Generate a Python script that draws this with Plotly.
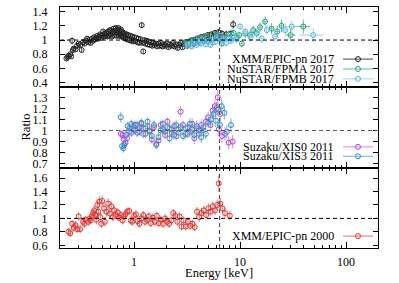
import plotly.graph_objects as go
from plotly.subplots import make_subplots

# ---------------- data (energy keV, ratio, error[, x half-width]) ----------------
xmm2017 = [
    (0.23, 0.74, 0.03), (0.235, 0.76, 0.03), (0.24, 0.78, 0.03), (0.25, 0.80, 0.03), (0.255, 0.77, 0.03),
    (0.26, 0.99, 0.05), (0.265, 0.86, 0.03), (0.27, 0.88, 0.03), (0.28, 0.87, 0.03), (0.29, 0.92, 0.03),
    (0.30, 0.95, 0.03), (0.31, 0.93, 0.03), (0.32, 0.86, 0.03), (0.33, 0.97, 0.03), (0.34, 0.95, 0.03),
    (0.35, 0.99, 0.03), (0.36, 1.02, 0.03), (0.37, 0.97, 0.03), (0.38, 1.00, 0.03), (0.39, 0.96, 0.03),
    (0.40, 1.02, 0.03), (0.41, 0.99, 0.03), (0.42, 1.04, 0.03), (0.43, 1.01, 0.03), (0.44, 1.03, 0.03),
    (0.45, 1.06, 0.03), (0.46, 1.02, 0.03), (0.47, 1.05, 0.03), (0.48, 1.08, 0.03), (0.49, 1.03, 0.03),
    (0.50, 1.07, 0.03), (0.51, 1.12, 0.03), (0.52, 1.05, 0.03), (0.53, 1.09, 0.03), (0.54, 1.06, 0.03),
    (0.55, 1.10, 0.03), (0.56, 1.05, 0.03), (0.57, 1.12, 0.03), (0.58, 1.06, 0.03), (0.59, 1.14, 0.03),
    (0.60, 1.08, 0.03), (0.61, 1.13, 0.03), (0.62, 1.05, 0.03), (0.63, 1.11, 0.03), (0.64, 1.16, 0.03),
    (0.65, 1.07, 0.03), (0.66, 1.13, 0.03), (0.67, 1.17, 0.03), (0.68, 1.06, 0.03), (0.69, 1.14, 0.03),
    (0.70, 1.09, 0.03), (0.71, 1.17, 0.03), (0.72, 1.06, 0.03), (0.73, 1.13, 0.03), (0.74, 1.08, 0.03),
    (0.75, 1.15, 0.03), (0.76, 1.05, 0.03), (0.77, 1.12, 0.03), (0.78, 1.05, 0.03), (0.79, 1.10, 0.03),
    (0.80, 1.03, 0.03), (0.82, 1.09, 0.03), (0.83, 1.02, 0.03), (0.85, 1.08, 0.03), (0.86, 1.01, 0.03),
    (0.88, 1.07, 0.03), (0.90, 1.00, 0.03), (0.92, 1.06, 0.03), (0.94, 0.99, 0.03), (0.96, 1.05, 0.03),
    (0.98, 0.98, 0.03), (1.00, 1.04, 0.03), (1.02, 0.99, 0.03), (1.05, 1.03, 0.03), (1.07, 0.97, 0.03),
    (1.10, 1.02, 0.03), (1.12, 0.96, 0.03), (1.15, 1.01, 0.03), (1.18, 1.21, 0.04), (1.20, 0.96, 0.03),
    (1.22, 0.84, 0.03), (1.25, 1.00, 0.03), (1.28, 0.95, 0.03), (1.31, 0.99, 0.03), (1.34, 0.94, 0.03),
    (1.37, 0.98, 0.03), (1.41, 0.93, 0.03), (1.44, 0.97, 0.03), (1.48, 0.92, 0.03), (1.52, 0.96, 0.03),
    (1.56, 0.93, 0.03), (1.60, 0.95, 0.03), (1.65, 0.91, 0.03), (1.70, 0.95, 0.03), (1.75, 0.92, 0.03),
    (1.80, 0.96, 0.03), (1.86, 0.91, 0.03), (1.92, 0.94, 0.03), (1.98, 0.92, 0.03), (2.04, 0.95, 0.03),
    (2.11, 0.90, 0.03), (2.18, 0.94, 0.03), (2.25, 0.92, 0.03), (2.33, 0.96, 0.03), (2.41, 0.91, 0.03),
    (2.49, 0.94, 0.03), (2.58, 0.89, 0.03), (2.67, 0.93, 0.03), (2.76, 0.96, 0.03), (2.86, 0.90, 0.03),
    (2.96, 0.94, 0.03), (3.07, 0.97, 0.04), (3.18, 0.92, 0.04), (3.30, 0.96, 0.04), (3.42, 0.99, 0.04),
    (3.55, 0.94, 0.04), (3.68, 1.00, 0.04), (3.82, 0.96, 0.04), (3.96, 1.02, 0.04), (4.11, 0.98, 0.04),
    (4.27, 1.04, 0.04), (4.43, 1.00, 0.04), (4.60, 1.05, 0.04), (4.78, 1.01, 0.04), (4.96, 1.07, 0.04),
    (5.15, 1.02, 0.04), (5.35, 1.08, 0.04), (5.56, 1.04, 0.04), (5.78, 1.10, 0.04), (6.00, 1.05, 0.04),
    (6.25, 1.11, 0.05), (6.50, 1.05, 0.05), (6.75, 1.09, 0.05), (7.05, 1.03, 0.05), (7.40, 1.08, 0.05),
    (7.80, 1.04, 0.05), (8.20, 1.09, 0.05), (8.60, 1.22, 0.06),
]

nustar_fpma = [
    (3.1, 0.97, 0.04, 0.1), (3.3, 0.93, 0.04, 0.1), (3.5, 1.00, 0.04, 0.1), (3.7, 0.95, 0.04, 0.1),
    (3.9, 1.02, 0.04, 0.1), (4.1, 0.96, 0.04, 0.1), (4.3, 1.03, 0.04, 0.1), (4.5, 0.98, 0.04, 0.1),
    (4.75, 1.05, 0.04, 0.12), (5.0, 0.99, 0.04, 0.12), (5.25, 1.04, 0.04, 0.12), (5.5, 0.97, 0.04, 0.13),
    (5.8, 1.06, 0.04, 0.14), (6.1, 1.08, 0.04, 0.15), (6.4, 1.02, 0.04, 0.15), (6.7, 0.95, 0.04, 0.15),
    (7.0, 1.01, 0.05, 0.16), (7.4, 1.04, 0.05, 0.2), (7.8, 1.08, 0.05, 0.2), (8.2, 1.02, 0.05, 0.2),
    (8.7, 1.10, 0.05, 0.25), (9.2, 1.04, 0.05, 0.25), (9.8, 1.07, 0.05, 0.3), (10.4, 0.95, 0.05, 0.3),
    (11.2, 1.09, 0.06, 0.4), (12.4, 1.07, 0.06, 0.5), (13.3, 1.14, 0.06, 0.5), (14.3, 1.10, 0.06, 0.5),
    (15.4, 1.18, 0.07, 0.6), (17.2, 1.26, 0.07, 0.8), (19.8, 1.16, 0.08, 1.0), (22.4, 1.12, 0.08, 1.2),
    (24.6, 1.20, 0.09, 1.2), (30.0, 1.07, 0.09, 3.0), (39.5, 1.19, 0.10, 6.0),
]

nustar_fpmb = [
    (3.1, 0.92, 0.04, 0.1), (3.3, 0.96, 0.04, 0.1), (3.5, 0.91, 0.04, 0.1), (3.7, 0.97, 0.04, 0.1),
    (3.9, 0.93, 0.04, 0.1), (4.1, 0.99, 0.04, 0.1), (4.3, 0.95, 0.04, 0.1), (4.5, 1.00, 0.04, 0.1),
    (4.75, 0.94, 0.04, 0.12), (5.0, 0.98, 0.04, 0.12), (5.25, 0.93, 0.04, 0.12), (5.5, 1.01, 0.04, 0.13),
    (5.8, 0.97, 0.04, 0.14), (6.1, 1.04, 0.04, 0.15), (6.4, 1.06, 0.04, 0.15), (6.7, 0.99, 0.04, 0.15),
    (7.0, 1.02, 0.05, 0.16), (7.4, 0.96, 0.05, 0.2), (7.8, 1.03, 0.05, 0.2), (8.2, 0.99, 0.05, 0.2),
    (8.7, 1.05, 0.05, 0.25), (9.3, 1.01, 0.05, 0.25), (10.0, 1.19, 0.05, 0.3), (11.2, 1.12, 0.06, 0.4),
    (12.6, 1.04, 0.06, 0.5), (14.4, 1.09, 0.06, 0.6), (16.0, 1.02, 0.07, 0.7), (17.9, 1.14, 0.07, 0.8),
    (21.3, 1.05, 0.08, 1.2), (26.6, 1.14, 0.09, 2.0), (30.7, 1.19, 0.09, 4.0), (49.0, 1.07, 0.10, 12.0),
]

suzaku_xis0 = [
    (0.75, 0.97, 0.04), (0.78, 0.96, 0.04), (0.80, 0.92, 0.04), (0.83, 0.89, 0.04), (0.86, 0.93, 0.04),
    (0.90, 1.02, 0.04), (0.94, 0.98, 0.04), (0.98, 1.04, 0.04), (1.02, 1.00, 0.04), (1.07, 1.05, 0.04),
    (1.12, 0.99, 0.04), (1.17, 1.06, 0.04), (1.22, 1.02, 0.04), (1.28, 0.97, 0.04), (1.34, 1.04, 0.04),
    (1.40, 0.99, 0.04), (1.47, 0.92, 0.04), (1.54, 1.03, 0.04), (1.62, 0.88, 0.04), (1.70, 0.91, 0.04),
    (1.78, 1.05, 0.04), (1.87, 1.01, 0.04), (1.96, 0.96, 0.04), (2.06, 1.08, 0.04), (2.16, 1.02, 0.04),
    (2.27, 0.98, 0.04), (2.38, 1.04, 0.04), (2.50, 0.95, 0.04), (2.62, 1.01, 0.04), (2.75, 1.17, 0.05),
    (2.90, 1.05, 0.04), (3.05, 0.97, 0.04), (3.20, 1.03, 0.04), (3.36, 0.99, 0.05), (3.53, 1.06, 0.05),
    (3.70, 0.93, 0.05), (3.90, 1.02, 0.05), (4.10, 0.97, 0.05), (4.30, 1.05, 0.05), (4.50, 1.00, 0.05),
    (4.75, 1.08, 0.05), (5.00, 1.12, 0.05), (5.25, 1.05, 0.05), (5.50, 1.18, 0.06), (5.80, 1.22, 0.06),
    (6.00, 1.20, 0.06), (6.15, 1.30, 0.07), (6.30, 1.01, 0.06), (6.50, 1.15, 0.06), (6.75, 0.95, 0.06),
    (7.20, 0.97, 0.06), (7.80, 0.89, 0.06), (8.50, 0.90, 0.06),
]

suzaku_xis3 = [
    (0.75, 1.12, 0.05), (0.77, 0.86, 0.04), (0.79, 0.84, 0.04), (0.81, 0.87, 0.04), (0.84, 0.96, 0.04),
    (0.87, 1.04, 0.04), (0.90, 0.99, 0.04), (0.94, 1.06, 0.04), (0.98, 1.01, 0.04), (1.02, 1.05, 0.04),
    (1.07, 0.98, 0.04), (1.12, 1.03, 0.04), (1.17, 1.07, 0.04), (1.22, 0.97, 0.04), (1.28, 1.02, 0.04),
    (1.34, 1.08, 0.04), (1.40, 1.00, 0.04), (1.47, 0.95, 0.04), (1.54, 1.05, 0.04), (1.62, 0.87, 0.04),
    (1.70, 0.94, 0.04), (1.78, 1.00, 0.04), (1.87, 1.06, 0.04), (1.96, 0.99, 0.04), (2.06, 1.03, 0.04),
    (2.16, 0.93, 0.04), (2.27, 1.01, 0.04), (2.38, 0.96, 0.04), (2.50, 1.05, 0.04), (2.62, 0.98, 0.04),
    (2.75, 1.03, 0.04), (2.90, 0.95, 0.04), (3.05, 1.02, 0.04), (3.20, 0.97, 0.04), (3.36, 1.06, 0.05),
    (3.53, 1.01, 0.05), (3.70, 0.96, 0.05), (3.90, 1.04, 0.05), (4.10, 1.00, 0.05), (4.30, 0.94, 0.05),
    (4.50, 1.03, 0.05), (4.75, 0.97, 0.05), (5.00, 1.07, 0.05), (5.30, 1.10, 0.05), (5.60, 1.15, 0.06),
    (5.90, 1.09, 0.06), (6.20, 1.19, 0.06), (6.45, 1.05, 0.06), (6.70, 1.22, 0.07), (7.10, 1.16, 0.06),
    (7.50, 0.99, 0.06), (8.20, 1.05, 0.06),
]

xmm2000 = [
    (0.24, 0.80, 0.06), (0.25, 0.78, 0.06), (0.26, 0.92, 0.06), (0.27, 0.86, 0.06), (0.28, 0.90, 0.06),
    (0.29, 0.84, 0.06), (0.30, 1.03, 0.06), (0.31, 0.84, 0.06), (0.33, 0.95, 0.06), (0.34, 0.92, 0.06),
    (0.35, 0.98, 0.06), (0.37, 0.95, 0.06), (0.38, 1.00, 0.06), (0.39, 0.97, 0.06), (0.40, 1.03, 0.07),
    (0.41, 1.08, 0.07), (0.42, 1.12, 0.07), (0.43, 1.05, 0.07), (0.44, 0.98, 0.07), (0.45, 1.20, 0.08),
    (0.46, 1.10, 0.08), (0.47, 1.25, 0.08), (0.48, 1.02, 0.07), (0.49, 0.92, 0.07), (0.50, 1.26, 0.08),
    (0.52, 1.15, 0.08), (0.53, 0.95, 0.07), (0.55, 1.10, 0.07), (0.57, 1.22, 0.08), (0.59, 1.07, 0.07),
    (0.61, 1.18, 0.07), (0.63, 1.02, 0.06), (0.65, 1.12, 0.06), (0.67, 1.05, 0.06), (0.70, 1.09, 0.06),
    (0.72, 1.01, 0.06), (0.75, 1.05, 0.06), (0.78, 0.97, 0.06), (0.80, 1.03, 0.06), (0.83, 1.06, 0.06),
    (0.86, 1.10, 0.06), (0.90, 1.11, 0.06), (0.93, 0.97, 0.06), (0.96, 0.95, 0.06), (1.00, 1.04, 0.06),
    (1.04, 1.06, 0.06), (1.08, 0.96, 0.06), (1.12, 0.92, 0.06), (1.17, 1.00, 0.06), (1.22, 1.05, 0.06),
    (1.27, 0.95, 0.06), (1.32, 0.98, 0.06), (1.38, 1.03, 0.06), (1.44, 0.93, 0.06), (1.50, 1.01, 0.06),
    (1.57, 0.95, 0.06), (1.64, 1.04, 0.06), (1.71, 0.93, 0.06), (1.79, 0.98, 0.06), (1.87, 0.92, 0.06),
    (1.96, 1.00, 0.06), (2.05, 0.95, 0.06), (2.14, 0.92, 0.06), (2.24, 0.97, 0.06), (2.34, 1.08, 0.06),
    (2.45, 1.04, 0.06), (2.56, 0.95, 0.06), (2.68, 1.03, 0.06), (2.80, 0.88, 0.06), (2.93, 0.97, 0.06),
    (3.07, 0.88, 0.06), (3.22, 0.95, 0.06), (3.38, 0.89, 0.06), (3.55, 0.92, 0.06), (3.73, 0.87, 0.06),
    (3.92, 1.10, 0.07), (4.12, 1.02, 0.07), (4.33, 1.08, 0.07), (4.55, 1.12, 0.07), (4.78, 1.05, 0.07),
    (5.02, 1.15, 0.07), (5.27, 1.10, 0.07), (5.53, 1.18, 0.07), (5.80, 1.12, 0.07), (6.08, 1.20, 0.08),
    (6.30, 1.52, 0.12), (6.50, 1.22, 0.08), (6.80, 1.15, 0.07), (7.20, 1.08, 0.07), (8.00, 1.04, 0.07),
]

fe_line_kev = 6.4
x_major = [1, 10, 100]
x_major_text = ["1", "10", "100"]
y_ranges = [[0.335, 1.465], [0.665, 1.39], [0.56, 1.755]]
y_dticks = [0.2, 0.1, 0.2]

legend_top = [("XMM/EPIC-pn 2017", "#222222", "#444444"),
              ("NuSTAR/FPMA 2017", "#2a9d78", "#5cc09a"),
              ("NuSTAR/FPMB 2017", "#56b4e9", "#9ad3f2")]
legend_mid = [("Suzaku/XIS0 2011", "#b040d8", "#d090ee"),
              ("Suzaku/XIS3 2011", "#2f8cc0", "#6fb3dc")]
legend_bot = [("XMM/EPIC-pn 2000", "#e8302a", "#f07070")]

# ---------------- figure ----------------
W, H = 399, 283
ML, MR, MT, MB = 60, 21, 5, 35
FONT = "Liberation Serif"

fig = make_subplots(rows=3, cols=1, shared_xaxes=True, vertical_spacing=0)


def add_series(data, row, color, ecolor):
    e = [p[0] for p in data]
    r = [p[1] for p in data]
    s = [p[2] for p in data]
    kw = {}
    if len(data[0]) > 3:
        kw["error_x"] = dict(type="data", array=[p[3] for p in data], color=ecolor,
                             thickness=1, width=0)
    fig.add_trace(go.Scatter(
        x=e, y=r, mode="markers",
        marker=dict(symbol="circle-open", size=5, color=color, line=dict(width=1, color=color)),
        error_y=dict(type="data", array=s, color=ecolor, thickness=1, width=0),
        showlegend=False, hoverinfo="skip", **kw), row=row, col=1)


add_series(xmm2017, 1, legend_top[0][1], legend_top[0][2])
add_series(nustar_fpma, 1, legend_top[1][1], legend_top[1][2])
add_series(nustar_fpmb, 1, legend_top[2][1], legend_top[2][2])
add_series(suzaku_xis0, 2, legend_mid[0][1], legend_mid[0][2])
add_series(suzaku_xis3, 2, legend_mid[1][1], legend_mid[1][2])
add_series(xmm2000, 3, legend_bot[0][1], legend_bot[0][2])

minor_vals = [m * 10 ** k for k in (-1, 0, 1, 2) for m in range(2, 10)
              if 0.2 <= m * 10 ** k <= 200]

for i in range(1, 4):
    fig.update_xaxes(
        type="log", range=[-0.69897, 2.30103],
        showline=True, linecolor="black", linewidth=1, mirror="ticks",
        ticks="inside", ticklen=6, tickcolor="black", tickwidth=1,
        tickvals=x_major, ticktext=x_major_text,
        minor=dict(tickvals=minor_vals, ticks="inside", ticklen=3, tickcolor="black", tickwidth=1),
        showgrid=False, zeroline=False, showticklabels=(i == 3),
        ticklabelstandoff=3,
        row=i, col=1)
    fig.update_yaxes(
        range=y_ranges[i - 1], dtick=y_dticks[i - 1], tick0=0,
        showline=True, linecolor="black", linewidth=1, mirror="ticks",
        ticks="inside", ticklen=5, tickcolor="black", tickwidth=1,
        showgrid=False, zeroline=False, ticklabelstandoff=9,
        row=i, col=1)

# reference lines
dash = "4px,3px"
for i, c in zip((1, 2, 3), ("black", "#555555", "black")):
    xs = "x" if i == 1 else f"x{i}"
    ys = "y" if i == 1 else f"y{i}"
    fig.add_shape(type="line", xref=f"{xs} domain", yref=ys, x0=0, x1=1, y0=1, y1=1,
                  line=dict(color=c, width=1, dash=dash))
fig.add_shape(type="line", xref="x", yref="paper", x0=fe_line_kev, x1=fe_line_kev, y0=0, y1=1,
              line=dict(color="#555555", width=1.2, dash=dash))

# legends (text on the left, sample on the right)
pw = W - ML - MR
ph = H - MT - MB


def px2x(px):
    return (px - ML) / pw


def py2y(py):
    return (H - MB - py) / ph


def draw_legend(entries, rows_py):
    for (label, color, ecolor), py in zip(entries, rows_py):
        y = py2y(py)
        fig.add_annotation(text=label, xref="paper", yref="paper", x=px2x(336), y=y,
                           xanchor="right", yanchor="middle", showarrow=False,
                           font=dict(family=FONT, size=12, color="black"))
        fig.add_shape(type="line", xref="paper", yref="paper", x0=px2x(343), x1=px2x(373),
                      y0=y, y1=y, line=dict(color=ecolor, width=1))
        fig.add_shape(type="circle", xref="paper", yref="paper", xsizemode="pixel",
                      ysizemode="pixel", xanchor=px2x(358), yanchor=y,
                      x0=-2.5, x1=2.5, y0=-2.5, y1=2.5,
                      line=dict(color=color, width=1), fillcolor="rgba(0,0,0,0)")


draw_legend(legend_top, [57.5, 67.5, 77.5])
draw_legend(legend_mid, [146, 155.5])
draw_legend(legend_bot, [236])

fig.add_annotation(text="Ratio", xref="paper", yref="paper", x=px2x(25), y=0.5,
                   textangle=-90, showarrow=False, xanchor="center", yanchor="middle",
                   font=dict(family=FONT, size=12.5, color="black"))
fig.add_annotation(text="Energy [keV]", xref="paper", yref="paper", x=0.5, y=py2y(273),
                   showarrow=False, xanchor="center", yanchor="middle",
                   font=dict(family=FONT, size=12.5, color="black"))

fig.update_layout(
    width=W, height=H,
    margin=dict(l=ML, r=MR, t=MT, b=MB),
    paper_bgcolor="white", plot_bgcolor="white",
    font=dict(family=FONT, size=12, color="black"),
    showlegend=False,
)

fig.write_html("out.html", config={"displayModeBar": False},
               post_script="document.body.style.margin='0px';document.body.style.padding='0px';")
